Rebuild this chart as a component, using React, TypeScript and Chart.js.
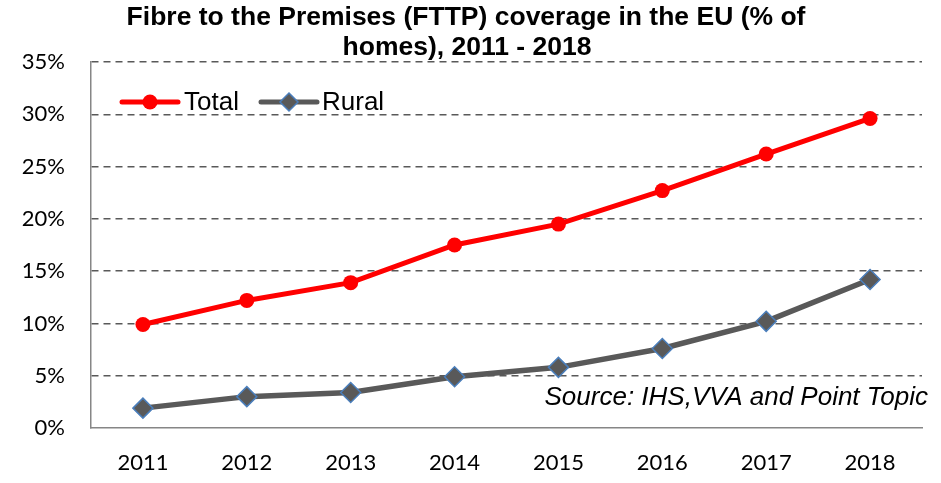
import React, { useEffect, useRef } from "react";
import { Chart, registerables } from "chart.js";

Chart.register(...registerables);

const years = ["2011", "2012", "2013", "2014", "2015", "2016", "2017", "2018"];
const totalValues = [9.9, 12.2, 13.9, 17.5, 19.5, 22.7, 26.2, 29.6];
const ruralValues = [1.9, 3.0, 3.4, 4.9, 5.8, 7.6, 10.2, 14.2];
const titleLines = ["Fibre to the Premises (FTTP) coverage in the EU (% of", "homes), 2011 - 2018"];
const legendLabels = ["Total", "Rural"];
const sourceText = "Source: IHS,VVA and Point Topic";

const RED = "#FF0000";
const GREY = "#595959";
const BLUE = "#4A7EBB";

const overlayPlugin = {
  id: "overlay",
  afterDraw(chart: any) {
    const ctx = chart.ctx;
    const area = chart.chartArea;
    ctx.save();
    // title
    ctx.fillStyle = "#000";
    ctx.font = "bold 26.5px 'Liberation Sans', Arial, sans-serif";
    ctx.textAlign = "center";
    ctx.textBaseline = "alphabetic";
    ctx.fillText(titleLines[0], 466, 25);
    ctx.fillText(titleLines[1], 467, 55);

    // legend
    const ly = 102;
    // Total
    ctx.strokeStyle = RED;
    ctx.lineWidth = 5;
    ctx.lineCap = "round";
    ctx.beginPath();
    ctx.moveTo(area.left + 31, ly);
    ctx.lineTo(area.left + 87, ly);
    ctx.stroke();
    ctx.fillStyle = RED;
    ctx.beginPath();
    ctx.arc(area.left + 59, ly, 7.5, 0, Math.PI * 2);
    ctx.fill();
    ctx.fillStyle = "#000";
    ctx.font = "26px 'Liberation Sans', Arial, sans-serif";
    ctx.textAlign = "left";
    ctx.textBaseline = "middle";
    ctx.fillText(legendLabels[0], area.left + 93, ly + 1);
    // Rural
    ctx.strokeStyle = GREY;
    ctx.beginPath();
    ctx.moveTo(area.left + 170, ly);
    ctx.lineTo(area.left + 226, ly);
    ctx.stroke();
    const cx = area.left + 198;
    const r = 9;
    ctx.fillStyle = GREY;
    ctx.strokeStyle = BLUE;
    ctx.lineWidth = 1.5;
    ctx.beginPath();
    ctx.moveTo(cx, ly - r);
    ctx.lineTo(cx + r, ly);
    ctx.lineTo(cx, ly + r);
    ctx.lineTo(cx - r, ly);
    ctx.closePath();
    ctx.fill();
    ctx.stroke();
    ctx.fillStyle = "#000";
    ctx.fillText(legendLabels[1], area.left + 231, ly + 1);

    // source
    ctx.font = "italic 26px 'Liberation Sans', Arial, sans-serif";
    ctx.textAlign = "right";
    ctx.textBaseline = "middle";
    ctx.fillText(sourceText, 928, 398);
    ctx.restore();
  },
};

export default function App() {
  const canvasRef = useRef<HTMLCanvasElement | null>(null);

  useEffect(() => {
    document.body.style.margin = "0";
    const canvas = canvasRef.current;
    if (!canvas) return;
    const chart = new Chart(canvas, {
      type: "line",
      data: {
        labels: years,
        datasets: [
          {
            label: legendLabels[0],
            data: totalValues,
            borderColor: RED,
            backgroundColor: RED,
            borderWidth: 5,
            pointStyle: "circle",
            pointRadius: 7.5,
            pointBackgroundColor: RED,
            pointBorderColor: RED,
            pointBorderWidth: 0,
            tension: 0,
          },
          {
            label: legendLabels[1],
            data: ruralValues,
            borderColor: GREY,
            backgroundColor: GREY,
            borderWidth: 5.5,
            pointStyle: "rectRot",
            pointRadius: 10,
            pointBackgroundColor: GREY,
            pointBorderColor: BLUE,
            pointBorderWidth: 1.5,
            tension: 0,
          },
        ],
      },
      options: {
        responsive: false,
        animation: false,
        devicePixelRatio: 1,
        layout: { padding: { top: 62, right: 19, left: 0, bottom: 0 } },
        plugins: {
          legend: { display: false },
          title: { display: false },
          tooltip: { enabled: false },
        },
        scales: {
          x: {
            offset: true,
            grid: { display: false, drawTicks: false },
            border: { display: true, color: "#868686", width: 1.5 },
            ticks: {
              color: "#000",
              padding: 22,
              font: { family: "Lato, 'Open Sans', sans-serif", size: 22 },
            },
            afterFit(scale: any) {
              scale.height = 55;
            },
          },
          y: {
            min: 0,
            max: 35,
            grid: {
              drawTicks: false,
              lineWidth: 1.5,
              color: (ctx: any) => (ctx.tick && ctx.tick.value === 0 ? "rgba(0,0,0,0)" : GREY),
            },
            border: { display: true, color: "#868686", width: 1.5, dash: [7, 5] },
            ticks: {
              stepSize: 5,
              color: "#000",
              padding: 26,
              font: { family: "Lato, 'Open Sans', sans-serif", size: 22 },
              callback: (v: any) => v + "%",
            },
            afterFit(scale: any) {
              scale.width = 91;
            },
          },
        },
      },
      plugins: [overlayPlugin],
    });
    return () => chart.destroy();
  }, []);

  return (
    <div style={{ position: "absolute", left: 0, top: 0, width: 941, height: 483 }}>
      <canvas ref={canvasRef} width={941} height={483} />
    </div>
  );
}
